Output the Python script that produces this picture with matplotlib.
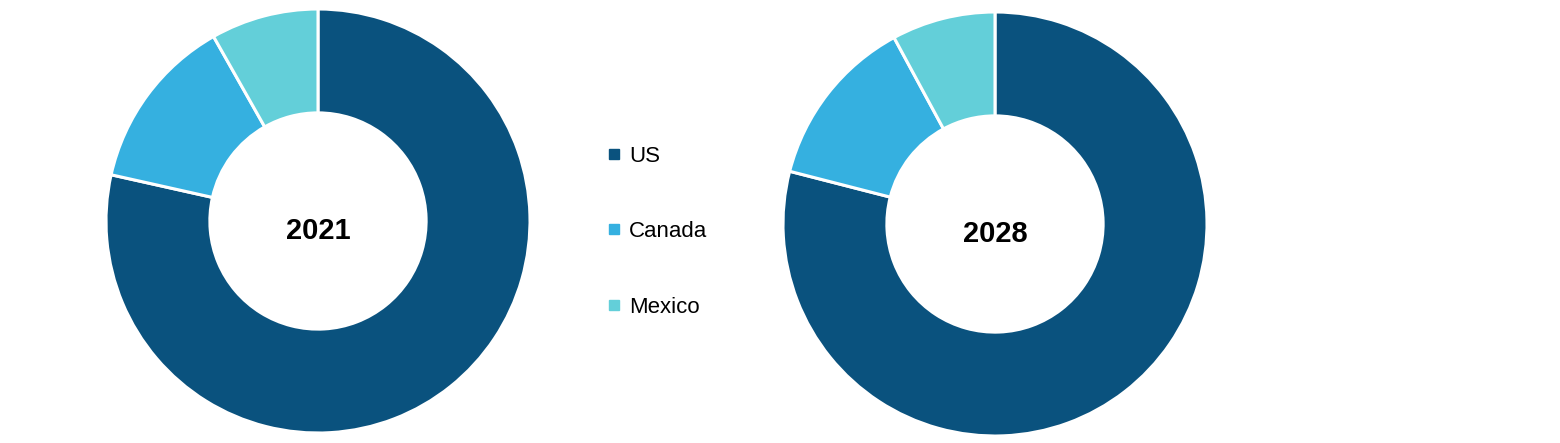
import matplotlib.pyplot as plt
from matplotlib.lines import Line2D

countries = ['US', 'Canada', 'Mexico']
share_2021 = [78.5, 13.3, 8.2]
share_2028 = [79.0, 13.1, 7.9]
years = ['2021', '2028']
colors = ['#0a527e', '#35b0e0', '#63cfd9']

plt.rcParams['font.family'] = ['Liberation Sans', 'DejaVu Sans']

fig = plt.figure(figsize=(15.6, 4.43), dpi=100)

# donut axes, placed in figure fractions
W, H = 1560, 443
R = 212
boxes = [(318, 221), (995, 224)]

for (cx, cy), vals, yr in zip(boxes, [share_2021, share_2028], years):
    ax = fig.add_axes([(cx - R) / W, (H - cy - R) / H, 2 * R / W, 2 * R / H])
    ax.pie(vals, colors=colors, startangle=90, counterclock=False,
           radius=1, wedgeprops=dict(width=0.49, edgecolor='white', linewidth=2.2))
    ax.set_xlim(-1, 1)
    ax.set_ylim(-1, 1)
    ax.set_aspect('equal')
    ax.text(0, -0.045, yr, ha='center', va='center', fontsize=21, fontweight='bold')
    ax.axis('off')

handles = [Line2D([], [], marker='s', linestyle='none', markersize=7,
                  markerfacecolor=c, markeredgecolor=c) for c in colors]
fig.legend(handles, countries, loc='center left', bbox_to_anchor=(587 / W, 0.477),
           frameon=False, fontsize=16, labelspacing=2.45, handlelength=0.6,
           handletextpad=0.4)

fig.savefig('out.png', dpi=100)
